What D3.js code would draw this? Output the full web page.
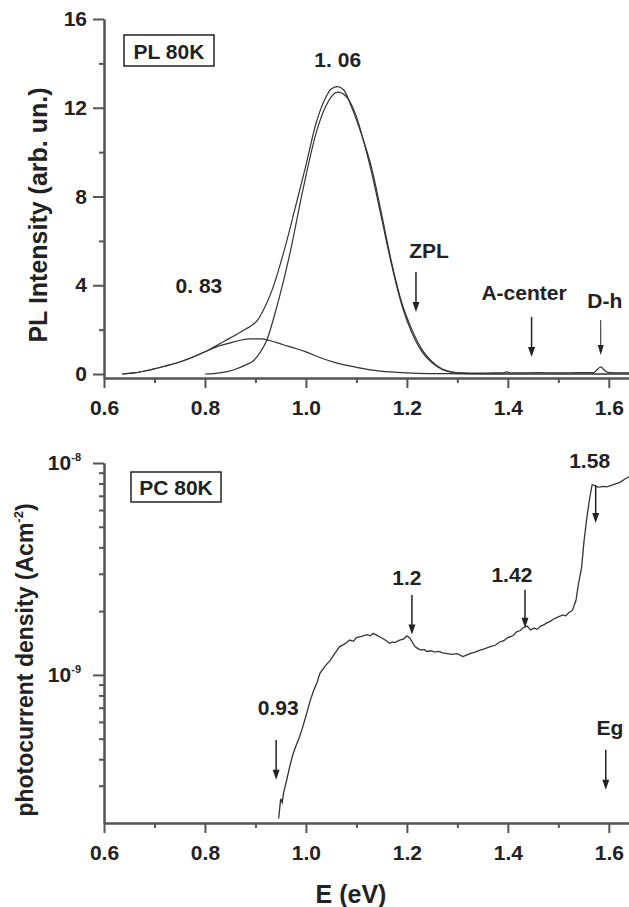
<!DOCTYPE html>
<html>
<head>
<meta charset="utf-8">
<script src="https://cdn.jsdelivr.net/npm/d3@7"></script>
<style>
  body { margin: 0; background: #fff; }
  svg { display: block; font-family: "Liberation Sans", Arial, sans-serif; font-weight: bold; }
</style>
</head>
<body>
<div id="chart"></div>
<script>
// ---- PL 80K (top panel) ----
var plE        = [0.636,0.66,0.69,0.72,0.75,0.78,0.80,0.82,0.84,0.86,0.875,0.89,0.905,0.915,0.93,0.955,0.98,1.00,1.02,1.04,1.05,1.063,1.075,1.09,1.11,1.13,1.15,1.17,1.19,1.21,1.23,1.25,1.27,1.29,1.31,1.34,1.37,1.39,1.398,1.405,1.42,1.46,1.50,1.54,1.57,1.577,1.584,1.591,1.60,1.64];
var plMeasured = [0,0.05,0.18,0.35,0.54,0.8,1.0,1.25,1.5,1.75,1.95,2.15,2.45,2.85,3.6,5.4,7.6,9.4,11.3,12.5,12.85,12.95,12.8,12.05,10.8,9.3,7.2,5.0,3.2,2.0,1.1,0.55,0.22,0.09,0.05,0.04,0.05,0.05,0.1,0.05,0.05,0.06,0.05,0.06,0.06,0.2,0.32,0.18,0.06,0.05];

var fitMainE = [0.80,0.83,0.856,0.88,0.896,0.91,0.922,0.942,0.968,0.994,1.022,1.04,1.063,1.08,1.10,1.12,1.13,1.15,1.17,1.19,1.21,1.23,1.25,1.27,1.29,1.32,1.40,1.64];
var fitMain  = [0,0.05,0.18,0.4,0.6,1.0,1.5,3.0,5.4,8.3,11.0,12.1,12.7,12.5,11.6,10.0,9.1,7.0,4.9,3.1,1.85,1.0,0.5,0.2,0.07,0.02,0,0];

var fitLowE = [0.636,0.66,0.69,0.72,0.75,0.78,0.80,0.82,0.85,0.87,0.89,0.91,0.93,0.955,0.98,1.00,1.03,1.06,1.10,1.14,1.18,1.22,1.30,1.40,1.64];
var fitLow  = [0,0.05,0.18,0.35,0.54,0.8,1.0,1.2,1.4,1.52,1.58,1.58,1.5,1.32,1.15,1.0,0.72,0.5,0.3,0.15,0.07,0.03,0.01,0,0];

var plTicks = [0, 4, 8, 12, 16];
var plMinor = [2, 6, 10, 14];

// annotations: [text, E, y] and arrows [E, from, to, width]
var plLabels = [["1. 06", 1.063, 13.83], ["0. 83", 0.788, 3.65], ["ZPL", 1.244, 5.23], ["A-center", 1.432, 3.33], ["D-h", 1.592, 2.97]];
var plArrows = [[1.218, 4.6, 2.8, 1.5], [1.447, 2.57, 0.77, 1.5], [1.584, 2.43, 0.86, 1]];

// ---- PC 80K (bottom panel) ----
var pcE = [0.946,0.950,0.953,0.956,0.962,0.968,0.974,0.980,0.986,0.992,1.000,1.008,1.015,1.022,1.028,1.038,1.048,1.058,1.067,1.077,1.087,1.094,1.100,1.110,1.121,1.128,1.133,1.140,1.147,1.157,1.166,1.171,1.176,1.186,1.194,1.200,1.206,1.216,1.222,1.228,1.234,1.240,1.248,1.255,1.263,1.271,1.280,1.290,1.300,1.311,1.318,1.325,1.335,1.345,1.355,1.365,1.375,1.384,1.392,1.400,1.410,1.418,1.425,1.430,1.438,1.445,1.452,1.458,1.465,1.471,1.477,1.484,1.490,1.500,1.509,1.515,1.520,1.528,1.535,1.540,1.546,1.551,1.556,1.562,1.567,1.572,1.578,1.584,1.590,1.596,1.602,1.612,1.622,1.632,1.640];
var pcDensity = [2.1e-10,2.6e-10,2.5e-10,2.8e-10,3.2e-10,3.7e-10,4.2e-10,4.6e-10,5.0e-10,5.5e-10,6.4e-10,7.5e-10,8.4e-10,9.2e-10,1.02e-9,1.10e-9,1.17e-9,1.27e-9,1.36e-9,1.40e-9,1.46e-9,1.44e-9,1.50e-9,1.52e-9,1.55e-9,1.53e-9,1.57e-9,1.54e-9,1.51e-9,1.46e-9,1.41e-9,1.43e-9,1.42e-9,1.46e-9,1.48e-9,1.53e-9,1.49e-9,1.36e-9,1.33e-9,1.31e-9,1.32e-9,1.29e-9,1.30e-9,1.28e-9,1.29e-9,1.27e-9,1.26e-9,1.25e-9,1.26e-9,1.22e-9,1.24e-9,1.26e-9,1.28e-9,1.31e-9,1.33e-9,1.36e-9,1.38e-9,1.43e-9,1.45e-9,1.50e-9,1.53e-9,1.60e-9,1.62e-9,1.67e-9,1.70e-9,1.63e-9,1.66e-9,1.64e-9,1.70e-9,1.72e-9,1.76e-9,1.79e-9,1.83e-9,1.88e-9,1.92e-9,1.90e-9,1.96e-9,2.02e-9,2.25e-9,2.7e-9,3.2e-9,4.3e-9,5.4e-9,6.8e-9,7.9e-9,7.85e-9,7.7e-9,7.72e-9,7.75e-9,7.72e-9,7.8e-9,7.95e-9,8.1e-9,8.4e-9,8.6e-9];

var pcMajor = [1e-9, 1e-8];
var pcMinor = [3e-10,4e-10,5e-10,6e-10,7e-10,8e-10,9e-10,2e-9,3e-9,4e-9,5e-9,6e-9,7e-9,8e-9,9e-9];

var pcLabels = [["0.93", 0.945, 6.47e-10], ["1.2", 1.200, 2.66e-9], ["1.42", 1.408, 2.75e-9], ["1.58", 1.562, 9.46e-9], ["Eg", 1.602, 5.21e-10]];
var pcArrows = [[0.941, 4.93e-10, 3.20e-10], [1.210, 2.38e-9, 1.55e-9], [1.434, 2.52e-9, 1.67e-9], [1.574, 7.87e-9, 5.21e-9], [1.594, 4.43e-10, 2.87e-10]];

var xTicks = [0.6, 0.8, 1.0, 1.2, 1.4, 1.6];
var xMinor = [0.7, 0.9, 1.1, 1.3, 1.5];

var W = 629, H = 907;
var ink = "#222", axisInk = "#555";

var svg = d3.select("#chart").append("svg").attr("width", W).attr("height", H);
svg.append("rect").attr("width", W).attr("height", H).attr("fill", "#fff");

var x = d3.scaleLinear().domain([0.6, 1.64]).range([104, 629]);
var yPL = d3.scaleLinear().domain([-0.18, 16]).range([378, 19]);
var yPC = d3.scaleLog().domain([2e-10, 1e-8]).range([823, 463]);

function styleAxis(g) {
  g.select(".domain").attr("stroke", axisInk).attr("stroke-width", 2);
  g.selectAll(".tick line").attr("stroke", axisInk).attr("stroke-width", 2);
  g.selectAll(".tick text").attr("fill", ink).style("font-size", "21px").style("font-family", "Liberation Sans, Arial, sans-serif").style("font-weight", "bold");
}

function xAxes(yPos) {
  svg.append("g").attr("transform", "translate(0," + yPos + ")")
    .call(d3.axisBottom(x).tickValues(xMinor).tickSize(5).tickFormat("").tickSizeOuter(0))
    .call(styleAxis);
  svg.append("g").attr("transform", "translate(0," + yPos + ")")
    .call(d3.axisBottom(x).tickValues(xTicks).tickSize(10).tickPadding(12).tickSizeOuter(0).tickFormat(d3.format(".1f")))
    .call(styleAxis);
}

function arrow(ax, y0, y1, sw) {
  var head = 10, hw = sw > 1 ? 3.5 : 3;
  svg.append("line").attr("x1", ax).attr("x2", ax).attr("y1", y0).attr("y2", y1 - head + 1)
    .attr("stroke", ink).attr("stroke-width", sw);
  svg.append("path").attr("d", "M" + (ax - hw) + "," + (y1 - head) + "L" + (ax + hw) + "," + (y1 - head) + "L" + ax + "," + y1 + "Z")
    .attr("fill", ink);
}

// ---------- top panel ----------
xAxes(378);
svg.append("g").attr("transform", "translate(104,0)")
  .call(d3.axisLeft(yPL).tickValues(plMinor).tickSize(5).tickFormat("").tickSizeOuter(0))
  .call(styleAxis);
svg.append("g").attr("transform", "translate(104,0)")
  .call(d3.axisLeft(yPL).tickValues(plTicks).tickSize(11).tickPadding(6).tickSizeOuter(0))
  .call(styleAxis);

var linePL = d3.line().x(function (d) { return x(d[0]); }).y(function (d) { return yPL(d[1]); }).curve(d3.curveMonotoneX);
[[fitLowE, fitLow], [fitMainE, fitMain], [plE, plMeasured]].forEach(function (s) {
  svg.append("path").datum(d3.zip(s[0], s[1])).attr("d", linePL)
    .attr("fill", "none").attr("stroke", "#333").attr("stroke-width", 1.2);
});

plLabels.forEach(function (l) {
  svg.append("text").attr("x", x(l[1])).attr("y", yPL(l[2])).attr("text-anchor", "middle")
    .attr("fill", ink).style("font-size", "21px").text(l[0]);
});
plArrows.forEach(function (a) { arrow(x(a[0]), yPL(a[1]), yPL(a[2]), a[3]); });

svg.append("rect").attr("x", 124).attr("y", 35).attr("width", 90).attr("height", 31)
  .attr("fill", "none").attr("stroke", ink).attr("stroke-width", 1.5);
svg.append("text").attr("x", 169).attr("y", 59).attr("text-anchor", "middle").attr("fill", ink)
  .style("font-size", "21px").text("PL 80K");

svg.append("text").attr("transform", "translate(47,215) rotate(-90)").attr("text-anchor", "middle")
  .attr("fill", ink).style("font-size", "25px").text("PL Intensity (arb. un.)");

// ---------- bottom panel ----------
xAxes(823);
svg.append("g").attr("transform", "translate(104,0)")
  .call(d3.axisLeft(yPC).tickValues(pcMinor).tickSize(5).tickFormat("").tickSizeOuter(0))
  .call(styleAxis);
var yPCAxis = svg.append("g").attr("transform", "translate(104,0)")
  .call(d3.axisLeft(yPC).tickValues(pcMajor).tickSize(11).tickPadding(12).tickSizeOuter(0).tickFormat(function () { return ""; }))
  .call(styleAxis);
yPCAxis.selectAll(".tick text").each(function (d) {
  var t = d3.select(this);
  t.append("tspan").text("10");
  t.append("tspan").attr("dy", "-9").style("font-size", "11px").text(String(Math.round(Math.log10(d))));
});

var linePC = d3.line().x(function (d) { return x(d[0]); }).y(function (d) { return yPC(d[1]); });
svg.append("path").datum(d3.zip(pcE, pcDensity)).attr("d", linePC)
  .attr("fill", "none").attr("stroke", "#333").attr("stroke-width", 1.3);

pcLabels.forEach(function (l) {
  svg.append("text").attr("x", x(l[1])).attr("y", yPC(l[2])).attr("text-anchor", "middle")
    .attr("fill", ink).style("font-size", "21px").text(l[0]);
});
pcArrows.forEach(function (a) { arrow(x(a[0]), yPC(a[1]), yPC(a[2]), 1.5); });

svg.append("rect").attr("x", 131).attr("y", 472).attr("width", 90).attr("height", 30)
  .attr("fill", "none").attr("stroke", ink).attr("stroke-width", 1.5);
svg.append("text").attr("x", 176).attr("y", 495).attr("text-anchor", "middle").attr("fill", ink)
  .style("font-size", "21px").text("PC 80K");

var yt = svg.append("text").attr("transform", "translate(33,660) rotate(-90)").attr("text-anchor", "middle")
  .attr("fill", ink).style("font-size", "23px");
yt.append("tspan").text("photocurrent density (Acm");
yt.append("tspan").attr("dy", "-10").style("font-size", "13px").text("-2");
yt.append("tspan").attr("dy", "10").text(")");

svg.append("text").attr("x", 351).attr("y", 903).attr("text-anchor", "middle").attr("fill", ink)
  .style("font-size", "25px").text("E (eV)");
</script>
</body>
</html>
